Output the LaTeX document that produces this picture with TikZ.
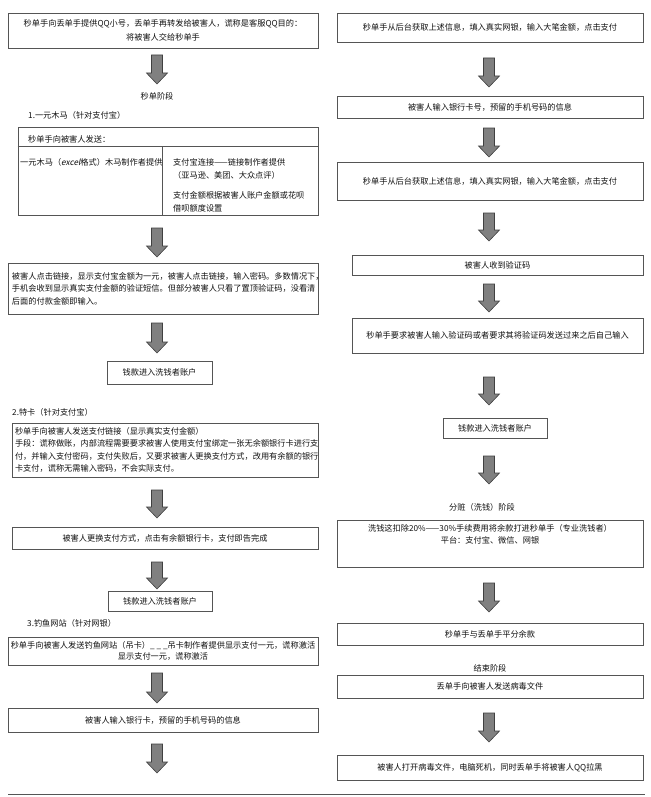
\documentclass[tikz,border=0pt]{standalone}
\usepackage{fontspec}
\setmainfont{Noto Sans CJK SC}
\newfontfamily\slantcjk[FakeSlant=0.2]{Noto Sans CJK SC}
\usetikzlibrary{calc}
\definecolor{boxline}{HTML}{555555}
\definecolor{arrfill}{HTML}{808080}
\definecolor{arrline}{HTML}{404040}
\definecolor{txtc}{HTML}{111111}
\newcommand\fsz{\fontsize{8.2}{12.5}\selectfont}
\tikzset{
  box/.style={draw=boxline, line width=0.8pt, inner sep=0pt, text=txtc, font=\fsz, align=center},
  lbox/.style={box, inner xsep=4pt, align=left},
  lbl/.style={inner sep=0pt, text=txtc, font=\fsz},
  blockarr/.style={fill=arrfill, draw=arrline, line width=0.6pt, line join=miter},
  rule/.style={draw=boxline, line width=0.8pt},
}
\newcommand\barrow[2]{\draw[blockarr] ($(#1)+(-5.5,0)$) -- ($(#2)+(-5.5,-11)$) -- ($(#2)+(-10.5,-11)$) -- (#2) -- ($(#2)+(10.5,-11)$) -- ($(#2)+(5.5,-11)$) -- ($(#1)+(5.5,0)$) -- cycle;}
\begin{document}
\begin{tikzpicture}[x=1pt,y=-1pt]
\useasboundingbox[fill=white] (0,0) rectangle (650,797);

% ---------------- left column ----------------
\node[box, minimum width=310, minimum height=35] (b1) at (163,30.5)
  {秒单手向丢单手提供QQ小号，丢单手再转发给被害人，谎称是客服QQ目的：\\[1.5pt]将被害人交给秒单手};
\coordinate (a1s) at (157,55); \coordinate (a1e) at (157,84);
\barrow{a1s}{a1e}
\node[lbl] (t1) at (157,96) {秒单阶段};
\node[lbl, anchor=west] (t2) at (28,115) {1.一元木马（针对支付宝）};

\node[box, minimum width=300, minimum height=88] (tbl) at (168,171) {};
\draw[rule] ($(tbl.north west)+(0,20)$) coordinate (hl) -- ($(tbl.north east)+(0,20)$);
\draw[rule] ($(tbl.south west)+(145,0)$) -- ($(tbl.north west)+(145,20)$);
\node[lbl, anchor=west] (th) at (28,139) {秒单手向被害人发送：};
\node[lbl, anchor=west] (tc1) at (20,162) {一元木马（{\slantcjk excel}格式）木马制作者提供};
\node[lbl, anchor=west] (tc2) at (173,162) {支付宝连接——链接制作者提供};
\node[lbl, anchor=west] (tc3) at (173,175) {（亚马逊、美团、大众点评）};
\node[lbl, anchor=west] (tc4) at (173,195) {支付金额根据被害人账户金额或花呗};
\node[lbl, anchor=west] (tc5) at (173,208) {借呗额度设置};

\coordinate (a2s) at (157,228); \coordinate (a2e) at (157,257);
\barrow{a2s}{a2e}
\node[lbox, minimum width=310, minimum height=51, text width=302] (b2) at (163,288.5)
  {被害人点击链接，显示支付宝金额为一元，被害人点击链接，输入密码。多数情况下，\\手机会收到显示真实支付金额的验证短信。但部分被害人只看了置顶验证码，没看清\\后面的付款金额即输入。};
\coordinate (a3s) at (157,323); \coordinate (a3e) at (157,353);
\barrow{a3s}{a3e}
\node[box, minimum width=105, minimum height=23] (b3) at (159.5,372.5) {钱款进入洗钱者账户};

\node[lbl, anchor=west] (t3) at (12,412) {2.特卡（针对支付宝）};
\node[lbox, inner xsep=3pt, minimum width=306, minimum height=54, text width=300] (b4) at (165,450)
  {秒单手向被害人发送支付链接（显示真实支付金额）\\手段：谎称做账，内部流程需要要求被害人使用支付宝绑定一张无余额银行卡进行支\\付，并输入支付密码，支付失败后，又要求被害人更换支付方式，改用有余额的银行\\卡支付，谎称无需输入密码，不会实际支付。};
\coordinate (a4s) at (157,490); \coordinate (a4e) at (157,518);
\barrow{a4s}{a4e}
\node[box, minimum width=306, minimum height=22] (b5) at (165,538) {被害人更换支付方式，点击有余额银行卡，支付即告完成};
\coordinate (a5s) at (157,562); \coordinate (a5e) at (157,589);
\barrow{a5s}{a5e}
\node[box, minimum width=104, minimum height=20] (b6) at (160,601) {钱款进入洗钱者账户};

\node[lbl, anchor=west] (t4) at (27,623) {3.钓鱼网站（针对网银）};
\node[box, minimum width=310, minimum height=28] (b7) at (163,651)
  {秒单手向被害人发送钓鱼网站（吊卡）\_ \_ \_吊卡制作者提供显示支付一元，谎称激活\\[-1.8pt]显示支付一元，谎称激活};
\coordinate (a6s) at (157,673); \coordinate (a6e) at (157,703);
\barrow{a6s}{a6e}
\node[box, minimum width=310, minimum height=24] (b8) at (163,720) {被害人输入银行卡，预留的手机号码的信息};
\coordinate (a7s) at (157,744); \coordinate (a7e) at (157,773);
\barrow{a7s}{a7e}

% ---------------- right column ----------------
\node[box, minimum width=306, minimum height=29] (r1) at (490,27.5) {秒单手从后台获取上述信息，填入真实网银，输入大笔金额，点击支付};
\coordinate (c1s) at (489,58); \coordinate (c1e) at (489,87);
\barrow{c1s}{c1e}
\node[box, minimum width=306, minimum height=22] (r2) at (490,107) {被害人输入银行卡号，预留的手机号码的信息};
\coordinate (c2s) at (489,128); \coordinate (c2e) at (489,157);
\barrow{c2s}{c2e}
\node[box, minimum width=306, minimum height=38] (r3) at (490,181) {秒单手从后台获取上述信息，填入真实网银，输入大笔金额，点击支付};
\coordinate (c3s) at (489,213); \coordinate (c3e) at (489,241);
\barrow{c3s}{c3e}
\node[box, minimum width=291, minimum height=20] (r4) at (497.5,265) {被害人收到验证码};
\coordinate (c4s) at (489,284); \coordinate (c4e) at (489,312);
\barrow{c4s}{c4e}
\node[box, minimum width=291, minimum height=35] (r5) at (497.5,335.5) {秒单手要求被害人输入验证码或者要求其将验证码发送过来之后自己输入};
\coordinate (c5s) at (489,377); \coordinate (c5e) at (489,405);
\barrow{c5s}{c5e}
\node[box, minimum width=104, minimum height=20] (r6) at (495,428) {钱款进入洗钱者账户};
\coordinate (c6s) at (489,456); \coordinate (c6e) at (489,484);
\barrow{c6s}{c6e}
\node[lbl] (t5) at (482,507) {分赃（洗钱）阶段};
\node[box, minimum width=306, minimum height=47] (r7) at (490,543.5) {};
\node[lbl, align=center, anchor=north] (r7t) at ($(r7.north)+(0,4.5)$)
  {洗钱这扣除20\%——30\%手续费用将余款打进秒单手（专业洗钱者）\\平台：支付宝、微信、网银};
\coordinate (c7s) at (489,583); \coordinate (c7e) at (489,612);
\barrow{c7s}{c7e}
\node[box, minimum width=306, minimum height=22] (r8) at (490,634) {秒单手与丢单手平分余款};
\node[lbl] (t6) at (490,668) {结束阶段};
\node[box, minimum width=306, minimum height=23] (r9) at (490,686.5) {丢单手向被害人发送病毒文件};
\coordinate (c8s) at (489,713); \coordinate (c8e) at (489,742);
\barrow{c8s}{c8e}
\node[box, minimum width=306, minimum height=25] (r10) at (490,767.5) {被害人打开病毒文件，电脑死机，同时丢单手将被害人QQ拉黑};

% bottom rule
\coordinate (bl) at (8,794); \coordinate (br) at (645,794);
\draw[rule] (bl) -- (br);
\end{tikzpicture}
\end{document}
